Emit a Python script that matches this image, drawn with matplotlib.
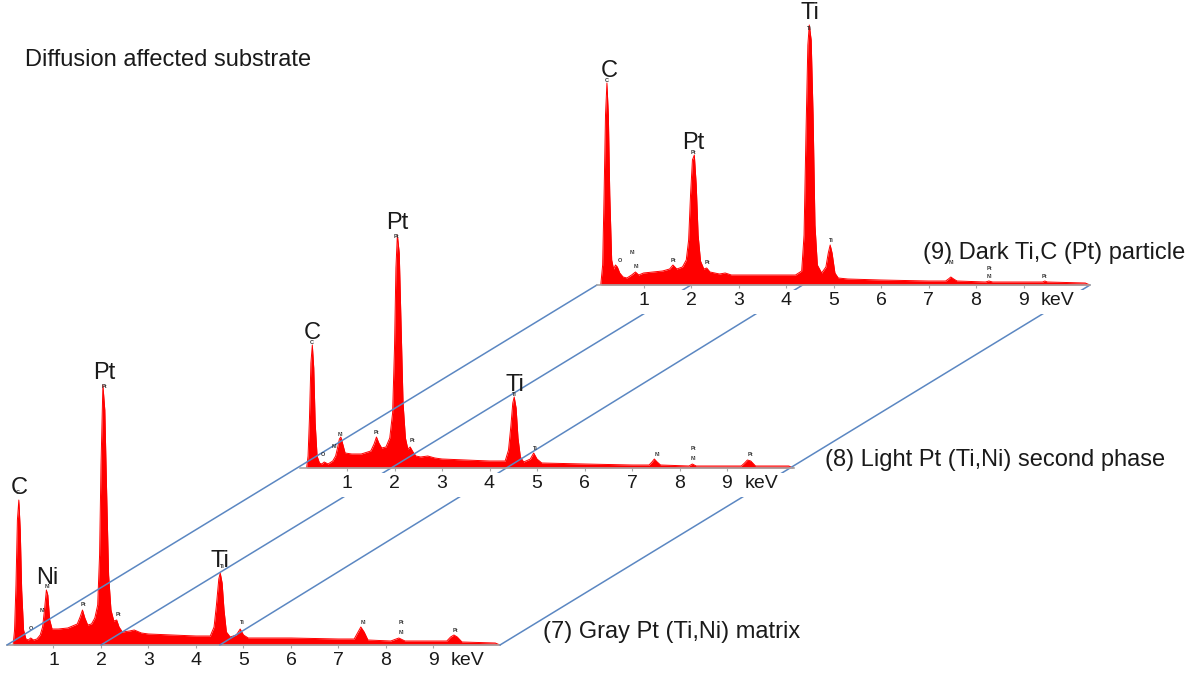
import numpy as np
import matplotlib.pyplot as plt
from matplotlib.patches import ConnectionPatch, Rectangle

plt.rcParams['font.family'] = ['Liberation Sans', 'DejaVu Sans']

# spectrum (7): gray Pt (Ti,Ni) matrix, energy in keV, intensity in a.u.
e7 = [0.15, 0.18, 0.21, 0.24, 0.27, 0.30, 0.33, 0.37, 0.42, 0.47, 0.52, 0.58,
      0.65, 0.72, 0.77, 0.81, 0.85, 0.88, 0.92, 0.97, 1.1, 1.3, 1.5, 1.56, 1.61,
      1.66, 1.72, 1.8, 1.87, 1.93, 1.97, 2.0, 2.04, 2.08, 2.12, 2.16, 2.21, 2.27,
      2.33, 2.38, 2.45, 2.6, 2.7, 2.85, 3.0, 3.5, 4.0, 4.3, 4.38, 4.43, 4.48,
      4.51, 4.55, 4.59, 4.64, 4.72, 4.85, 4.93, 5.0, 5.1, 6.0, 7.0, 7.33, 7.4,
      7.47, 7.54, 7.62, 8.1, 8.27, 8.4, 9.28, 9.36, 9.43, 9.5, 9.6, 10.3, 10.4]
i7 = [0, 15, 60, 125, 145, 115, 55, 15, 6, 5, 7, 5,
      6, 10, 18, 35, 55, 50, 25, 16, 16, 17, 21, 28, 35,
      27, 20, 21, 27, 40, 90, 180, 260, 235, 150, 70, 35, 24,
      25, 18, 13, 14, 15, 12, 11, 10, 9, 9, 18, 40, 66,
      72, 62, 35, 13, 8, 10, 16, 10, 7, 7, 6, 6, 12,
      18, 13, 5, 4, 7, 4, 4, 8, 10, 8, 3, 2, 0]

# spectrum (8): light Pt (Ti,Ni) second phase
e8 = [0.15, 0.18, 0.21, 0.24, 0.27, 0.30, 0.33, 0.37, 0.42, 0.47, 0.52, 0.6,
      0.7, 0.76, 0.8, 0.84, 0.87, 0.91, 0.96, 1.1, 1.3, 1.5, 1.57, 1.62, 1.67,
      1.73, 1.82, 1.9, 1.96, 2.0, 2.03, 2.06, 2.10, 2.14, 2.18, 2.23, 2.28, 2.33,
      2.39, 2.45, 2.55, 2.7, 2.85, 3.0, 3.5, 4.0, 4.33, 4.4, 4.45, 4.49, 4.52,
      4.56, 4.6, 4.65, 4.72, 4.86, 4.93, 5.0, 5.1, 6.0, 7.0, 7.36, 7.42, 7.47,
      7.53, 7.6, 8.2, 8.27, 8.35, 9.3, 9.37, 9.43, 9.5, 9.6, 10.3, 10.4]
i8 = [0, 12, 50, 105, 123, 100, 45, 12, 5, 4, 6, 4,
      7, 12, 20, 29, 31, 24, 15, 14, 14, 17, 24, 31, 25,
      20, 21, 30, 55, 120, 200, 233, 215, 140, 65, 30, 19, 21,
      16, 12, 11, 12, 10, 9, 8, 7, 7, 18, 42, 65, 71,
      60, 30, 11, 6, 9, 15, 9, 5, 4, 3, 3, 6, 9,
      6, 3, 2, 4, 2, 2, 5, 8, 7, 2, 2, 0]

# spectrum (9): dark Ti,C (Pt) particle
e9 = [0.1, 0.14, 0.17, 0.2, 0.23, 0.26, 0.29, 0.33, 0.37, 0.41, 0.45, 0.5,
      0.57, 0.65, 0.75, 0.83, 0.9, 1.0, 1.2, 1.4, 1.55, 1.62, 1.7, 1.82, 1.9,
      1.95, 1.99, 2.03, 2.07, 2.11, 2.15, 2.2, 2.27, 2.33, 2.4, 2.6, 2.72, 2.85,
      3.2, 3.8, 4.2, 4.33, 4.38, 4.42, 4.46, 4.49, 4.53, 4.57, 4.61, 4.66, 4.75,
      4.84, 4.89, 4.93, 4.97, 5.03, 5.1, 5.3, 6.0, 7.0, 7.36, 7.42, 7.47, 7.53,
      7.6, 8.2, 8.27, 8.35, 9.4, 9.45, 9.5, 10.3, 10.4]
i9 = [0, 20, 90, 170, 202, 170, 90, 25, 16, 20, 18, 12,
      8, 7, 10, 13, 10, 12, 13, 14, 16, 20, 16, 18, 25,
      45, 90, 125, 130, 100, 50, 24, 16, 17, 13, 11, 12, 10,
      10, 10, 10, 14, 50, 150, 240, 260, 245, 170, 60, 20, 12,
      18, 32, 40, 32, 12, 7, 6, 5, 4, 4, 6, 8, 6,
      4, 3, 4, 3, 3, 4, 3, 2, 0]

# large element labels (element, keV)
peaks7 = [('C', 0.27), ('Ni', 0.86), ('Pt', 2.06), ('Ti', 4.51)]
peaks8 = [('C', 0.27), ('Pt', 2.06), ('Ti', 4.54)]
peaks9 = [('C', 0.27), ('Pt', 2.05), ('Ti', 4.5)]

# small software line markers (element, keV, height)
marks7 = [('C', 0.25, 153), ('O', 0.52, 16), ('Ni', 0.88, 58), ('Ni', 0.77, 35),
          ('Pt', 1.62, 40), ('Pt', 2.36, 31), ('Pt', 2.08, 258), ('Ti', 4.55, 78),
          ('Ti', 4.97, 22), ('Ni', 7.52, 23), ('Pt', 8.32, 22), ('Ni', 8.32, 12),
          ('Pt', 9.47, 14)]
marks8 = [('C', 0.26, 125), ('O', 0.49, 13), ('Ni', 0.87, 34), ('Ni', 0.73, 21),
          ('Pt', 1.63, 35), ('Pt', 2.37, 27), ('Pt', 2.05, 232), ('Ti', 4.53, 73),
          ('Ti', 4.97, 20), ('Ni', 7.53, 13), ('Pt', 8.29, 19), ('Ni', 8.29, 9),
          ('Pt', 9.49, 13)]
marks9 = [('C', 0.23, 205), ('O', 0.5, 25), ('Ni', 0.76, 33), ('Ni', 0.86, 19),
          ('Pt', 1.62, 25), ('Pt', 2.34, 22), ('Pt', 2.06, 133), ('Ti', 4.5, 257),
          ('Ti', 4.95, 45), ('Ni', 7.49, 22), ('Pt', 8.29, 17), ('Ni', 8.29, 8),
          ('Pt', 9.45, 8)]

# guide lines joining the stacked spectra (keV on bottom, keV on top)
guides_bottom = [0.02, 2.0, 4.5, 10.4]
guides_top = [0.02, 2.0, 4.35, 10.4]

W, H = 1199, 677
KEV_PX = 47.5
XMIN, XMAX = 0.02, 10.4
AX_H = 270
RED = '#ff0000'
GRID = '#a6a6a6'
BLUE = '#5b87c2'
INK = '#1a1a1a'


def spectrum_axes(fig, x0, base, e, i, peaks, marks, strip=False):
    left = (x0 + XMIN * KEV_PX) / W
    ax = fig.add_axes([left, (H - base) / H, (XMAX - XMIN) * KEV_PX / W, AX_H / H])
    ax.set_xlim(XMIN, XMAX)
    ax.set_ylim(0, AX_H)
    ax.set_axisbelow(False)
    ax.patch.set_visible(False)
    for s in ['top', 'left', 'right']:
        ax.spines[s].set_visible(False)
    ax.spines['bottom'].set_color(GRID)
    ax.spines['bottom'].set_linewidth(1.2)
    ax.set_yticks([])
    ax.set_xticks(range(1, 10))
    ax.set_xticks([9.72], labels=['keV'], minor=True)
    ax.tick_params(axis='x', which='major', length=2.2, width=0.8, color=GRID,
                   labelsize=14, pad=2.5, labelcolor=INK)
    ax.tick_params(axis='x', which='minor', length=0, labelsize=14, pad=4.7,
                   labelcolor=INK)

    ax.fill_between(e, 0, i, color=RED, lw=0)
    ax.plot(e, i, color=RED, lw=0.7)

    ea, ia = np.array(e), np.array(i)
    for name, k in peaks:
        near = np.abs(ea - k) < 0.08
        h = ia[near].max()
        ax.text(k, h + 12, name, fontsize=17, ha='center', va='center', color=INK)
    for name, k, h in marks:
        ax.text(k, h, name, fontsize=4, ha='center', va='center', color='#333333',
                fontweight='bold')

    if strip:
        # white band behind the tick labels, as in the original figure
        ax.add_patch(Rectangle((XMIN + 0.1, -29), XMAX - XMIN - 0.1, 24, facecolor='white',
                               edgecolor='none', clip_on=False, zorder=2.3))
    return ax


fig = plt.figure(figsize=(W / 100, H / 100), dpi=100)

ax7 = spectrum_axes(fig, 6, 645, e7, i7, peaks7, marks7)
ax8 = spectrum_axes(fig, 299.5, 468, e8, i8, peaks8, marks8, strip=True)
ax9 = spectrum_axes(fig, 596, 285, e9, i9, peaks9, marks9, strip=True)

for kb, kt in zip(guides_bottom, guides_top):
    con = ConnectionPatch(xyA=(kb, 0), coordsA=ax7.transData,
                          xyB=(kt, 0), coordsB=ax9.transData,
                          arrowstyle='-', shrinkA=0, shrinkB=0,
                          color=BLUE, lw=1.1, zorder=2.1)
    con.set_clip_on(False)
    ax8.add_artist(con)

fig.text(25 / W, 1 - 60 / H, 'Diffusion affected substrate', fontsize=17,
         ha='left', va='center', color=INK)
fig.text(543 / W, 1 - 632 / H, '(7) Gray Pt (Ti,Ni) matrix', fontsize=17,
         ha='left', va='center', color=INK)
fig.text(825 / W, 1 - 460 / H, '(8) Light Pt (Ti,Ni) second phase', fontsize=17,
         ha='left', va='center', color=INK)
fig.text(923 / W, 1 - 253 / H, '(9) Dark Ti,C (Pt) particle', fontsize=17,
         ha='left', va='center', color=INK)

fig.savefig('out.png', dpi=100)
